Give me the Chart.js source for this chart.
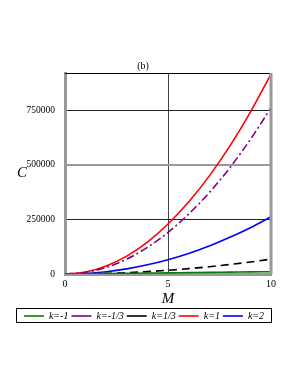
<!DOCTYPE html>
<html>
<head>
<meta charset="utf-8">
<script src="https://cdn.jsdelivr.net/npm/chart.js@4"></script>
<style>
  html, body { margin: 0; padding: 0; background: #fff; }
  #wrap { width: 298px; height: 385px; }
</style>
</head>
<body>
<div id="wrap"><canvas id="grafico"></canvas></div>
<script>
// valores
const masas = [0, 1, 2, 3, 4, 5, 6, 7, 8, 9, 10];
const kMenos1 = [0, 1000, 2100, 3200, 4300, 5300, 6400, 7500, 8500, 9600, 10600];
const kMenosTercio = [0, 7600, 30000, 68000, 122000, 190000, 274000, 372000, 486000, 616000, 761000];
const kTercio = [0, 700, 2700, 6100, 10900, 17000, 24500, 33300, 43500, 55000, 68000];
const k1 = [0, 9000, 37000, 82000, 146000, 229000, 330000, 448000, 585000, 741000, 915000];
const k2 = [0, 2600, 10500, 23600, 42000, 65500, 94000, 128000, 168000, 212000, 262000];
const ticksY = [0, 250000, 500000, 750000];
const ticksX = [0, 5, 10];

const serie = (valores) => masas.map((m, i) => ({ x: m, y: valores[i] }));

const marco = {
    id: 'marco',
    afterDraw(chart) {
        const ctx = chart.ctx;
        const a = chart.chartArea;
        ctx.save();
        // borde superior
        ctx.strokeStyle = '#000';
        ctx.lineWidth = 1;
        ctx.beginPath();
        ctx.moveTo(a.left, a.top + 0.5);
        ctx.lineTo(a.right, a.top + 0.5);
        ctx.stroke();
        // borde derecho
        ctx.strokeStyle = '#999';
        ctx.lineWidth = 3;
        ctx.beginPath();
        ctx.moveTo(a.right, a.top);
        ctx.lineTo(a.right, a.bottom);
        ctx.stroke();
        // textos
        ctx.fillStyle = '#000';
        ctx.textAlign = 'center';
        ctx.textBaseline = 'middle';
        ctx.font = '10px "Liberation Serif"';
        ctx.fillText('(b)', 143, 66);
        ctx.font = 'italic 15px "Liberation Serif"';
        ctx.fillText('C', 22, 173);
        // caja de la leyenda
        const cajas = chart.legend.legendHitBoxes;
        if (cajas && cajas.length) {
            const arr = Math.min(...cajas.map(c => c.top));
            const abj = Math.max(...cajas.map(c => c.top + c.height));
            ctx.strokeStyle = '#000';
            ctx.lineWidth = 1;
            ctx.strokeRect(16.5, Math.round(arr) - 2.5, 255, abj - arr + 4);
        }
        ctx.restore();
    }
};

const linea = (etiqueta, valores, color, dash) => ({
    label: etiqueta,
    data: serie(valores),
    borderColor: color,
    backgroundColor: color,
    borderWidth: 1.6,
    borderDash: dash,
    pointRadius: 0,
    tension: 0.4,
    cubicInterpolationMode: 'monotone',
    fill: false
});

new Chart(document.getElementById('grafico').getContext('2d'), {
    type: 'line',
    data: {
        datasets: [
            linea('k=-1', kMenos1, '#008000', []),
            linea('k=-1/3', kMenosTercio, '#800080', [8, 3, 2, 3]),
            linea('k=1/3', kTercio, '#000000', [8, 5]),
            linea('k=1', k1, '#ff0000', []),
            linea('k=2', k2, '#0000ff', [])
        ]
    },
    options: {
        responsive: true,
        maintainAspectRatio: false,
        animation: false,
        layout: { padding: { top: 73, right: 27, bottom: 54, left: 17 } },
        plugins: {
            title: { display: false },
            tooltip: { enabled: false },
            legend: {
                position: 'bottom',
                labels: {
                    usePointStyle: true,
                    pointStyle: 'line',
                    pointStyleWidth: 20,
                    boxHeight: 8,
                    padding: 3,
                    color: '#000',
                    font: { family: 'Liberation Serif', style: 'italic', size: 10 }
                }
            }
        },
        scales: {
            x: {
                type: 'linear',
                min: 0,
                max: 10,
                afterBuildTicks: (s) => { s.ticks = ticksX.map(v => ({ value: v })); },
                afterFit: (s) => { s.height = 34; },
                ticks: {
                    color: '#000',
                    padding: 4,
                    maxRotation: 0,
                    font: { family: 'Liberation Serif', size: 10 }
                },
                grid: {
                    color: (c) => c.tick && c.tick.value === 5 ? '#444' : 'rgba(0,0,0,0)',
                    lineWidth: 1,
                    drawTicks: false
                },
                border: { color: '#999', width: 3 },
                title: {
                    display: true,
                    text: 'M',
                    color: '#000',
                    padding: { top: 0, bottom: 0 },
                    font: { family: 'Liberation Serif', style: 'italic', size: 15 }
                }
            },
            y: {
                min: 0,
                max: 920000,
                afterBuildTicks: (s) => { s.ticks = ticksY.map(v => ({ value: v })); },
                afterFit: (s) => { s.width = 48; },
                ticks: {
                    color: '#000',
                    padding: 10,
                    callback: (v) => String(v),
                    font: { family: 'Liberation Serif', size: 9.5 }
                },
                grid: {
                    color: (c) => {
                        const v = c.tick ? c.tick.value : 0;
                        if (v === 0) return 'rgba(0,0,0,0)';
                        return v === 500000 ? '#999' : '#222';
                    },
                    lineWidth: (c) => c.tick && c.tick.value === 500000 ? 2 : 1,
                    drawTicks: false
                },
                border: { color: '#999', width: 3 }
            }
        }
    },
    plugins: [marco]
});
</script>
</body>
</html>
